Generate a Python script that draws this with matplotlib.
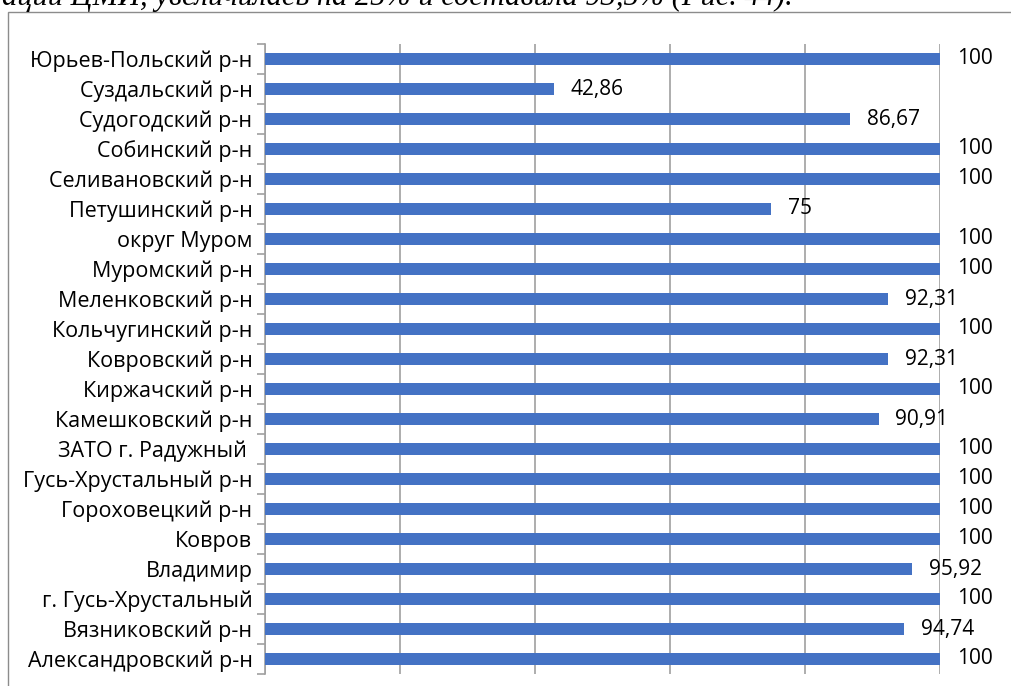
import matplotlib
matplotlib.use("Agg")
import matplotlib.pyplot as plt
from matplotlib.patches import Rectangle
import numpy as np

# Данные (снизу вверх, как на диаграмме)
raiony = ["Александровский р-н", "Вязниковский р-н", "г. Гусь-Хрустальный", "Владимир",
          "Ковров", "Гороховецкий р-н", "Гусь-Хрустальный р-н", "ЗАТО г. Радужный ",
          "Камешковский р-н", "Киржачский р-н", "Ковровский р-н", "Кольчугинский р-н",
          "Меленковский р-н", "Муромский р-н", "округ Муром", "Петушинский р-н",
          "Селивановский р-н", "Собинский р-н", "Судогодский р-н", "Суздальский р-н",
          "Юрьев-Польский р-н"]
znacheniya = [100, 94.74, 100, 95.92, 100, 100, 100, 100, 90.91, 100, 92.31, 100,
              92.31, 100, 100, 75, 100, 100, 86.67, 42.86, 100]
metki = ["100", "94,74", "100", "95,92", "100", "100", "100", "100", "90,91", "100",
         "92,31", "100", "92,31", "100", "100", "75", "100", "100", "86,67", "42,86", "100"]

plt.rcParams['font.family'] = ['Open Sans', 'DejaVu Sans']

fig = plt.figure(figsize=(10.12, 6.86), dpi=100)

# Обрезанная строка текста сверху
fig.text(0.002, 1 - 5 / 686, "ации ЦМИ, увеличилась на 25% и составила 93,5% (Рис. 44).",
         family="Liberation Serif", style="italic", fontsize=22, va="baseline", ha="left")

# Рамка диаграммы
fig.patches.append(Rectangle((8 / 1012, -0.1), 1.2, 1 - 12 / 686 + 0.1, transform=fig.transFigure,
                             fill=False, edgecolor="#8c8c8c", lw=1.0))

ax = fig.add_axes([265 / 1012, 1 - 674 / 686, 675 / 1012, 630 / 686])
y = np.arange(len(raiony))
ax.barh(y, znacheniya, height=0.4, color="#4472C4", zorder=3)

ax.set_xlim(0, 100)
ax.set_ylim(-0.5, len(raiony) - 0.5)
ax.set_xticks([0, 20, 40, 60, 80, 100])
ax.set_xticklabels([])
ax.tick_params(axis="x", length=0)
ax.grid(axis="x", color="#a0a0a0", lw=1.2, zorder=0)

ax.set_yticks(y)
ax.set_yticklabels(raiony, fontsize=15.5)
ax.tick_params(axis="y", which="major", length=0, pad=9)
ax.set_yticks(np.arange(len(raiony) + 1) - 0.5, minor=True)
ax.tick_params(axis="y", which="minor", length=6, width=1.2, color="#a0a0a0")

for s in ["top", "right", "bottom"]:
    ax.spines[s].set_visible(False)
ax.spines["left"].set_color("#a0a0a0")
ax.spines["left"].set_linewidth(1.2)

for yi, v, t in zip(y, znacheniya, metki):
    ax.annotate(t, (v, yi), xytext=(12, 0), textcoords="offset points",
                va="center", ha="left", fontsize=15)

fig.savefig("out.png", dpi=100)
